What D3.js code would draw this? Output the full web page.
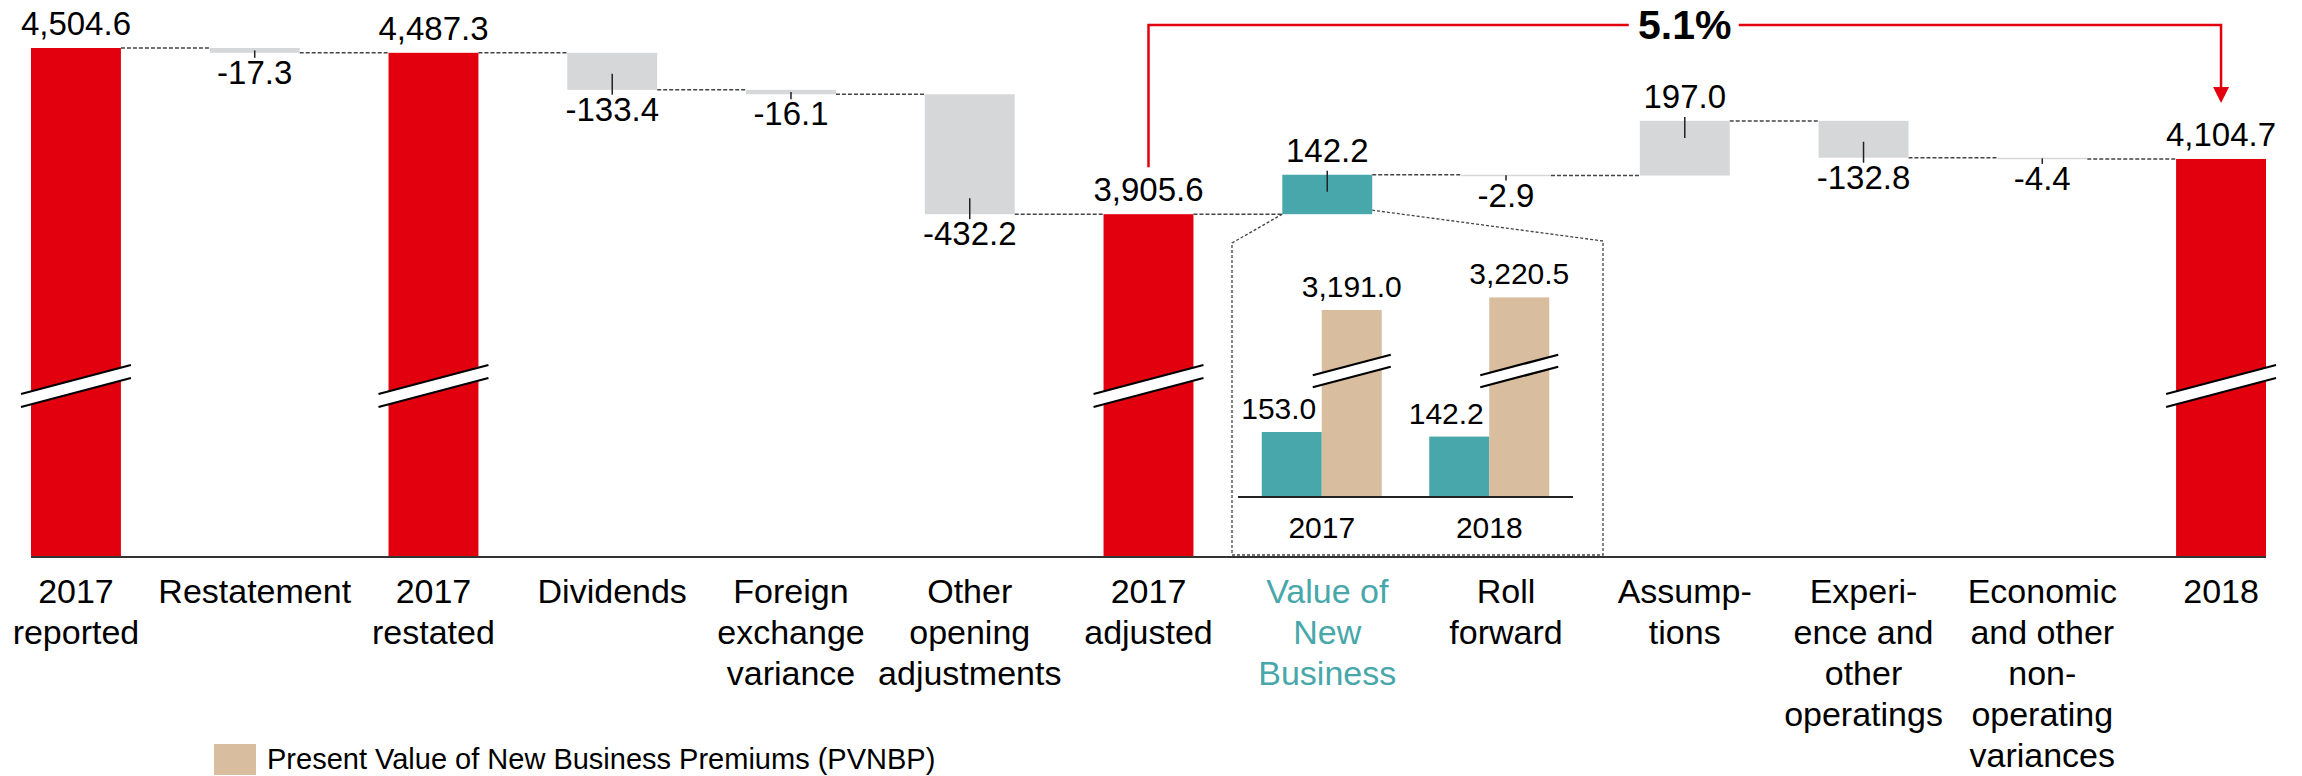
<!DOCTYPE html>
<html>
<head>
<meta charset="utf-8">
<script src="https://cdn.jsdelivr.net/npm/d3@7"></script>
<style>
  body { margin: 0; background: #fff; }
  svg text { font-family: "Liberation Sans", Arial, sans-serif; }
</style>
</head>
<body>
<svg id="chart" width="2302" height="776"></svg>
<script>
// waterfall steps
var categories = ["2017 reported", "Restatement", "2017 restated", "Dividends",
    "Foreign exchange variance", "Other opening adjustments", "2017 adjusted",
    "Value of New Business", "Roll forward", "Assumptions",
    "Experience and other operatings", "Economic and other non-operating variances", "2018"];
var labelLines = [
    ["2017", "reported"], ["Restatement"], ["2017", "restated"], ["Dividends"],
    ["Foreign", "exchange", "variance"], ["Other", "opening", "adjustments"],
    ["2017", "adjusted"], ["Value of", "New", "Business"], ["Roll", "forward"],
    ["Assump-", "tions"], ["Experi-", "ence and", "other", "operatings"],
    ["Economic", "and other", "non-", "operating", "variances"], ["2018"]
];
var kinds = ["total", "delta", "total", "delta", "delta", "delta", "total",
    "vnb", "delta", "delta", "delta", "delta", "total"];
var values = [4504.6, -17.3, 4487.3, -133.4, -16.1, -432.2, 3905.6,
    142.2, -2.9, 197.0, -132.8, -4.4, 4104.7];

// inset: value of new business vs PVNBP
var insetYears = ["2017", "2018"];
var vnbValues = [153.0, 142.2];
var pvnbpValues = [3191.0, 3220.5];

var growthLabel = "5.1%";
var legendLabel = "Present Value of New Business Premiums (PVNBP)";

var RED = "#e2000f", GREY = "#d6d7d9", TEAL = "#48a7aa", TAN = "#d8bd9e";
var BASE_Y = 557;
var BREAK_Y = 386;

var svg = d3.select("#chart");
var fmt = d3.formatLocale({decimal: ".", thousands: ",", grouping: [3], currency: ["", ""], minus: "-"}).format(",.1f");

var x = d3.scaleBand()
    .domain(categories)
    .range([31, 2266])
    .paddingInner(0.497)
    .paddingOuter(0);

var y = d3.scaleLinear()
    .domain([2670, 4504.6])
    .range([BASE_Y, 48]);

var bw = x.bandwidth();

// running totals
var running = 0;
var steps = categories.map(function(c, i) {
    var d = {cat: c, kind: kinds[i], value: values[i], i: i};
    if (d.kind === "total") {
        d.from = y.domain()[0];
        d.to = values[i];
        running = values[i];
    } else {
        d.from = running;
        d.to = running + values[i];
        running = d.to;
    }
    d.top = y(Math.max(d.from, d.to));
    d.bottom = y(Math.min(d.from, d.to));
    d.level = running;
    return d;
});

function fillFor(d) {
    if (d.kind === "total") return RED;
    if (d.kind === "vnb") return TEAL;
    return GREY;
}

// dashed connectors
svg.append("g").selectAll("line")
    .data(steps.slice(0, -1))
    .enter().append("line")
    .attr("x1", function(d) { return x(d.cat) + bw; })
    .attr("x2", function(d) { return x(categories[d.i + 1]); })
    .attr("y1", function(d) { return y(d.level); })
    .attr("y2", function(d) { return y(d.level); })
    .attr("stroke", "#444")
    .attr("stroke-width", 1.5)
    .attr("stroke-dasharray", "4,2");

// inset callout outline
var vnb = steps[7];
var insetBox = {left: 1232, right: 1603, top: 243, bottom: 555};
svg.append("path")
    .attr("d", d3.line()([
        [x(vnb.cat), vnb.bottom], [insetBox.left, insetBox.top],
        [insetBox.left, insetBox.bottom], [insetBox.right, insetBox.bottom],
        [insetBox.right, insetBox.top - 2], [x(vnb.cat) + bw, vnb.bottom - 4]
    ]))
    .attr("fill", "none")
    .attr("stroke", "#444")
    .attr("stroke-width", 1.3)
    .attr("stroke-dasharray", "3,2");

// bars
svg.append("g").selectAll("rect")
    .data(steps)
    .enter().append("rect")
    .attr("x", function(d) { return x(d.cat); })
    .attr("y", function(d) { return d.top; })
    .attr("width", bw)
    .attr("height", function(d) { return Math.max(1.5, d.bottom - d.top); })
    .attr("fill", fillFor);

// axis break marks
function drawBreak(g, cx, cy, half, gap) {
    var slope = -0.264;
    var x0 = cx - half, x1 = cx + half;
    var up = [[x0, cy - gap / 2 - slope * half], [x1, cy - gap / 2 + slope * half]];
    var lo = [[x0, cy + gap / 2 - slope * half], [x1, cy + gap / 2 + slope * half]];
    g.append("path")
        .attr("d", d3.line()(up.concat(lo.slice().reverse())) + "Z")
        .attr("fill", "#fff");
    [up, lo].forEach(function(l) {
        g.append("path").attr("d", d3.line()(l))
            .attr("stroke", "#000").attr("stroke-width", 2.2).attr("fill", "none");
    });
}
var breaks = svg.append("g");
steps.filter(function(d) { return d.kind === "total"; }).forEach(function(d) {
    drawBreak(breaks, x(d.cat) + bw / 2, BREAK_Y, bw / 2 + 10, 13);
});

// leader ticks on change bars
svg.append("g").selectAll("line")
    .data(steps.filter(function(d) { return d.kind !== "total"; }))
    .enter().append("line")
    .attr("x1", function(d) { return x(d.cat) + bw / 2; })
    .attr("x2", function(d) { return x(d.cat) + bw / 2; })
    .attr("y1", function(d) {
        var mid = (d.top + d.bottom) / 2;
        return d.value < 0 ? Math.max(mid, d.bottom - 16) : d.top - 4;
    })
    .attr("y2", function(d) {
        var mid = (d.top + d.bottom) / 2;
        return d.value < 0 ? d.bottom + 5 : Math.min(mid, d.top + 17);
    })
    .attr("stroke", "#222")
    .attr("stroke-width", 1.5);

// value labels
svg.append("g").selectAll("text")
    .data(steps)
    .enter().append("text")
    .attr("x", function(d) { return x(d.cat) + bw / 2; })
    .attr("y", function(d) { return d.value < 0 ? d.bottom + 31 : d.top - 13; })
    .attr("text-anchor", "middle")
    .attr("font-size", 33)
    .attr("fill", "#000")
    .text(function(d) { return fmt(d.value); });

// baseline
svg.append("line")
    .attr("x1", x.range()[0]).attr("x2", x.range()[1])
    .attr("y1", BASE_Y).attr("y2", BASE_Y)
    .attr("stroke", "#333").attr("stroke-width", 2);

// category labels
var cats = svg.append("g").selectAll("text")
    .data(steps)
    .enter().append("text")
    .attr("text-anchor", "middle")
    .attr("font-size", 34)
    .attr("fill", function(d) { return d.kind === "vnb" ? TEAL : "#000"; });
cats.selectAll("tspan")
    .data(function(d) { return labelLines[d.i].map(function(t) { return {t: t, cx: x(d.cat) + bw / 2}; }); })
    .enter().append("tspan")
    .attr("x", function(d) { return d.cx; })
    .attr("y", function(d, j) { return 603 + j * 41; })
    .text(function(d) { return d.t; });

// inset chart
var inset = svg.append("g");
var ix = d3.scalePoint().domain(insetYears).range([1238, 1573]).padding(0.5);
var vnbY = d3.scaleLinear().domain([0, 153]).range([497, 432]);
var pvY = d3.scaleLinear().domain([2753, 3191]).range([497, 310]);
var ibw = 60;

inset.selectAll(".vnb").data(vnbValues).enter().append("rect")
    .attr("x", function(d, i) { return ix(insetYears[i]) - ibw; })
    .attr("y", function(d) { return vnbY(d); })
    .attr("width", ibw)
    .attr("height", function(d) { return vnbY(0) - vnbY(d); })
    .attr("fill", TEAL);
inset.selectAll(".pv").data(pvnbpValues).enter().append("rect")
    .attr("x", function(d, i) { return ix(insetYears[i]); })
    .attr("y", function(d) { return pvY(d); })
    .attr("width", ibw)
    .attr("height", function(d) { return pvY.range()[0] - pvY(d); })
    .attr("fill", TAN);

insetYears.forEach(function(yr) {
    drawBreak(inset, ix(yr) + ibw / 2, 371, ibw / 2 + 9, 12);
});

inset.selectAll(".vnbLabel").data(vnbValues).enter().append("text")
    .attr("x", function(d, i) { return ix(insetYears[i]) - ibw / 2 - 13; })
    .attr("y", function(d) { return vnbY(d) - 13; })
    .attr("text-anchor", "middle").attr("font-size", 30)
    .text(function(d) { return fmt(d); });
inset.selectAll(".pvLabel").data(pvnbpValues).enter().append("text")
    .attr("x", function(d, i) { return ix(insetYears[i]) + ibw / 2; })
    .attr("y", function(d) { return pvY(d) - 13; })
    .attr("text-anchor", "middle").attr("font-size", 30)
    .text(function(d) { return fmt(d); });

inset.append("line")
    .attr("x1", ix.range()[0]).attr("x2", ix.range()[1])
    .attr("y1", 497).attr("y2", 497)
    .attr("stroke", "#222").attr("stroke-width", 2);

inset.selectAll(".yr").data(insetYears).enter().append("text")
    .attr("x", function(d) { return ix(d); })
    .attr("y", 538)
    .attr("text-anchor", "middle").attr("font-size", 30)
    .text(function(d) { return d; });

// growth bracket 2017 adjusted -> 2018
var startX = x(categories[6]) + bw / 2;
var endX = x(categories[12]) + bw / 2;
var midX = (startX + endX) / 2;
var bracketY = 25;
var tipY = steps[12].top - 56;
var bracket = svg.append("g");
bracket.append("path")
    .attr("d", "M" + startX + "," + (steps[6].top - 47) + "V" + bracketY + "H" + (midX - 56) +
        "M" + (midX + 54) + "," + bracketY + "H" + endX + "V" + (tipY - 14))
    .attr("fill", "none").attr("stroke", RED).attr("stroke-width", 2.5);
bracket.append("path")
    .attr("d", d3.line()([[endX - 8, tipY - 16], [endX + 8, tipY - 16], [endX, tipY]]) + "Z")
    .attr("fill", RED);
bracket.append("text")
    .attr("x", midX).attr("y", 39)
    .attr("text-anchor", "middle")
    .attr("font-size", 41).attr("font-weight", "bold")
    .text(growthLabel);

// legend
var legend = svg.append("g");
legend.append("rect")
    .attr("x", 214).attr("y", 744).attr("width", 42).attr("height", 31)
    .attr("fill", TAN);
legend.append("text")
    .attr("x", 267).attr("y", 769)
    .attr("font-size", 29)
    .text(legendLabel);
</script>
</body>
</html>
